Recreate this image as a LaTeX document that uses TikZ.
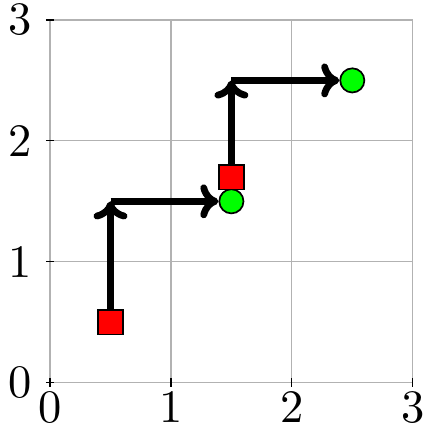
\documentclass[tikz,border=0pt]{standalone}
\usepackage{tikz}
\usetikzlibrary{arrows.meta}

\begin{document}
\begin{tikzpicture}[
      every node/.style={font=\fontsize{10.95}{13.6}\selectfont},
      start/.style={draw, fill=red, rectangle, minimum size=2.05mm, inner sep=0pt, line width=0.4pt},
      goal/.style={draw, fill=green, circle, minimum size=2mm, inner sep=0pt, line width=0.4pt},
      arr/.style={-{To[length=1.5mm, width=2.8mm]}, line width=1.6pt},
      axtick/.style={line width=0.3pt},
      lab/.style={inner sep=2pt}
  ]
    \useasboundingbox (-0.414,-0.375) rectangle (3.09,3.165);
    \draw[gray!60, line width=0.3pt] (0,0) grid (3,3);
    \foreach \i in {0,...,3} {
      \draw[axtick] (\i,-0.035) -- (\i,0.035);
      \draw[axtick] (-0.035,\i) -- (0.035,\i);
      \node[lab, anchor=north] (xl\i) at (\i,0.005) {\i};
      \node[lab, anchor=east]  (yl\i) at (-0.075,\i) {\i};
    }

    \node[goal]  (g1) at (1.5,1.5) {};
    \node[start] (s1) at (0.5,0.5) {};
    \node[start] (s2) at (1.5,1.7) {};
    \node[goal]  (g2) at (2.5,2.5) {};
    \coordinate (k1) at (0.5,1.5);
    \coordinate (k2) at (1.5,2.5);

    \draw[arr] (s1) -- (k1);
    \draw[arr] (k1) -- (g1);
    \draw[arr] (s2) -- (k2);
    \draw[arr] (k2) -- (g2);
  \end{tikzpicture}
\end{document}
